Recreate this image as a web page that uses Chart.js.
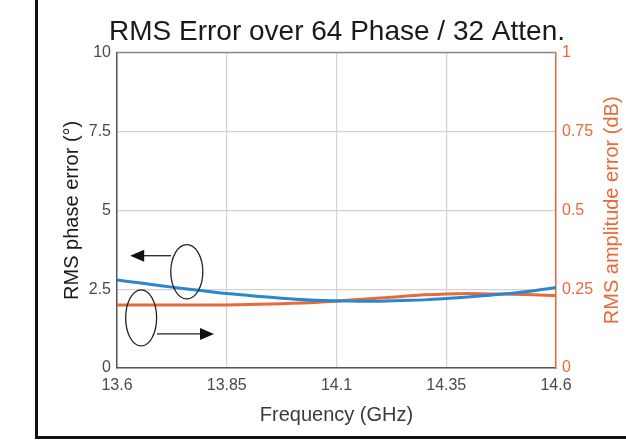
<!DOCTYPE html>
<html lang="en">
<head>
  <meta charset="UTF-8">
  <title>RMS Error over 64 Phase / 32 Atten.</title>
  <script src="https://cdn.jsdelivr.net/npm/chart.js"></script>
  <style>
    html, body { margin: 0; padding: 0; background: #fff; overflow: hidden; }
    #frame { position: absolute; left: 35px; top: -10px; width: 700px; height: 443px; border: 3px solid #111; }
    #wrap { position: absolute; left: 0; top: 0; width: 626px; height: 441px; }
  </style>
</head>
<body>
<div id="frame"></div>
<div id="wrap"><canvas id="rmsChart" width="626" height="441"></canvas></div>

<script>
// frequency points (GHz)
const freq = [13.6, 13.65, 13.7, 13.75, 13.8, 13.85, 13.9, 13.95, 14.0, 14.05, 14.1,
              14.15, 14.2, 14.25, 14.3, 14.35, 14.4, 14.45, 14.5, 14.55, 14.6];
// RMS phase error (deg), left axis
const phaseErr = [2.79, 2.70, 2.61, 2.52, 2.44, 2.36, 2.30, 2.24, 2.19, 2.15, 2.13,
                  2.12, 2.12, 2.14, 2.16, 2.20, 2.25, 2.31, 2.37, 2.45, 2.55];
// RMS amplitude error (dB), right axis
const ampErr = [0.200, 0.200, 0.200, 0.200, 0.200, 0.200, 0.201, 0.203, 0.205, 0.208, 0.212,
                0.217, 0.222, 0.227, 0.232, 0.235, 0.236, 0.235, 0.234, 0.232, 0.230];

const xTicks = [13.6, 13.85, 14.1, 14.35, 14.6];
const xTickLabels = ['13.6', '13.85', '14.1', '14.35', '14.6'];
const yTicks = [0, 2.5, 5, 7.5, 10];
const yTickLabels = ['0', '2.5', '5', '7.5', '10'];
const y2Ticks = [0, 0.25, 0.5, 0.75, 1];
const y2TickLabels = ['0', '0.25', '0.5', '0.75', '1'];

const BLUE = '#2a86cf';
const ORANGE = '#e8693a';
const FONT = "'Liberation Sans', Arial, Helvetica, sans-serif";
const RIGHT_TITLE = 'RMS amplitude error (dB)';

// the two "which axis" markers, in data units (ellipse + arrow)
const markers = [
  { cx: 13.759, cy: 3.05, rx: 0.0365, ry: 0.86, from: [13.723, 3.56], to: [13.630, 3.56] },
  { cx: 13.655, cy: 1.59, rx: 0.0353, ry: 0.89, from: [13.691, 1.08], to: [13.821, 1.08] }
];

function pickTicks(values) {
  return scale => { scale.ticks = values.map(v => ({ value: v })); };
}

const framePlugin = {
  id: 'frameAndMarkers',
  afterDatasetsDraw(chart) {
    const { ctx, chartArea: a, scales } = chart;
    ctx.save();
    // top edge of the box
    ctx.strokeStyle = '#8a8a8a';
    ctx.lineWidth = 1.5;
    ctx.beginPath();
    ctx.moveTo(a.left, a.top);
    ctx.lineTo(a.right, a.top);
    ctx.stroke();

    ctx.strokeStyle = '#222';
    ctx.fillStyle = '#111';
    ctx.lineWidth = 1.3;
    markers.forEach(m => {
      const cx = scales.x.getPixelForValue(m.cx);
      const cy = scales.y.getPixelForValue(m.cy);
      const rx = Math.abs(scales.x.getPixelForValue(m.cx + m.rx) - cx);
      const ry = Math.abs(scales.y.getPixelForValue(m.cy + m.ry) - cy);
      ctx.beginPath();
      ctx.ellipse(cx, cy, rx, ry, 0, 0, Math.PI * 2);
      ctx.stroke();

      const x1 = scales.x.getPixelForValue(m.from[0]);
      const y1 = scales.y.getPixelForValue(m.from[1]);
      const x2 = scales.x.getPixelForValue(m.to[0]);
      const y2 = scales.y.getPixelForValue(m.to[1]);
      const dir = Math.sign(x2 - x1);
      ctx.beginPath();
      ctx.moveTo(x1, y1);
      ctx.lineTo(x2 - dir * 10, y2);
      ctx.stroke();
      ctx.beginPath();
      ctx.moveTo(x2, y2);
      ctx.lineTo(x2 - dir * 14, y2 - 6);
      ctx.lineTo(x2 - dir * 14, y2 + 6);
      ctx.closePath();
      ctx.fill();
    });

    // right axis title, reading bottom to top like the left one
    const r = scales.y2;
    ctx.translate(r.right - 14, (a.top + a.bottom) / 2);
    ctx.rotate(-Math.PI / 2);
    ctx.fillStyle = ORANGE;
    ctx.font = '20px ' + FONT;
    ctx.textAlign = 'center';
    ctx.textBaseline = 'middle';
    ctx.fillText(RIGHT_TITLE, 0, 0);
    ctx.restore();
  }
};

const ctx = document.getElementById('rmsChart').getContext('2d');
new Chart(ctx, {
  type: 'line',
  data: {
    labels: freq,
    datasets: [
      { label: 'RMS phase error', data: freq.map((f, i) => ({ x: f, y: phaseErr[i] })),
        borderColor: BLUE, borderWidth: 3, pointRadius: 0, tension: 0.4, yAxisID: 'y', fill: false },
      { label: 'RMS amplitude error', data: freq.map((f, i) => ({ x: f, y: ampErr[i] })),
        borderColor: ORANGE, borderWidth: 3, pointRadius: 0, tension: 0.4, yAxisID: 'y2', fill: false }
    ]
  },
  options: {
    responsive: false,
    animation: false,
    devicePixelRatio: 1,
    layout: { padding: { left: 48, right: 0, top: 0, bottom: 14 } },
    plugins: {
      legend: { display: false },
      tooltip: { enabled: false },
      title: {
        display: true,
        text: 'RMS Error over 64 Phase / 32 Atten.',
        color: '#1a1a1a',
        font: { family: FONT, size: 28, weight: 'normal' },
        padding: { top: 15, bottom: 4 }
      }
    },
    scales: {
      x: {
        type: 'linear', min: 13.6, max: 14.6,
        afterBuildTicks: pickTicks(xTicks),
        afterFit: s => { s.height = 59; },
        ticks: {
          color: '#4a4a4a', padding: 8, maxRotation: 0, autoSkip: false,
          font: { family: FONT, size: 16 },
          callback: v => xTickLabels[xTicks.indexOf(v)]
        },
        grid: { color: '#d2d2d2', lineWidth: 1.2, drawTicks: false },
        border: { color: '#555', width: 1.5 },
        title: { display: true, text: 'Frequency (GHz)', color: '#3a3a3a',
                 font: { family: FONT, size: 20 }, padding: { top: 0, bottom: 0 } }
      },
      y: {
        position: 'left', min: 0, max: 10,
        afterBuildTicks: pickTicks(yTicks),
        afterFit: s => { s.width = 69; },
        ticks: {
          color: '#4a4a4a', padding: 6, autoSkip: false,
          font: { family: FONT, size: 16 },
          callback: v => yTickLabels[yTicks.indexOf(v)]
        },
        grid: { color: '#d2d2d2', lineWidth: 1.2, drawTicks: false },
        border: { color: '#555', width: 1.5 },
        title: { display: true, text: 'RMS phase error (°)', color: '#1a1a1a',
                 font: { family: FONT, size: 20 }, padding: { top: 12, bottom: 0 } }
      },
      y2: {
        position: 'right', min: 0, max: 1,
        afterBuildTicks: pickTicks(y2Ticks),
        afterFit: s => { s.width = 70; },
        ticks: {
          color: ORANGE, padding: 6, autoSkip: false,
          font: { family: FONT, size: 16 },
          callback: v => y2TickLabels[y2Ticks.indexOf(v)]
        },
        grid: { drawOnChartArea: false, drawTicks: false },
        border: { color: ORANGE, width: 1.5 },
        title: { display: false }
      }
    }
  },
  plugins: [framePlugin]
});
</script>
</body>
</html>
